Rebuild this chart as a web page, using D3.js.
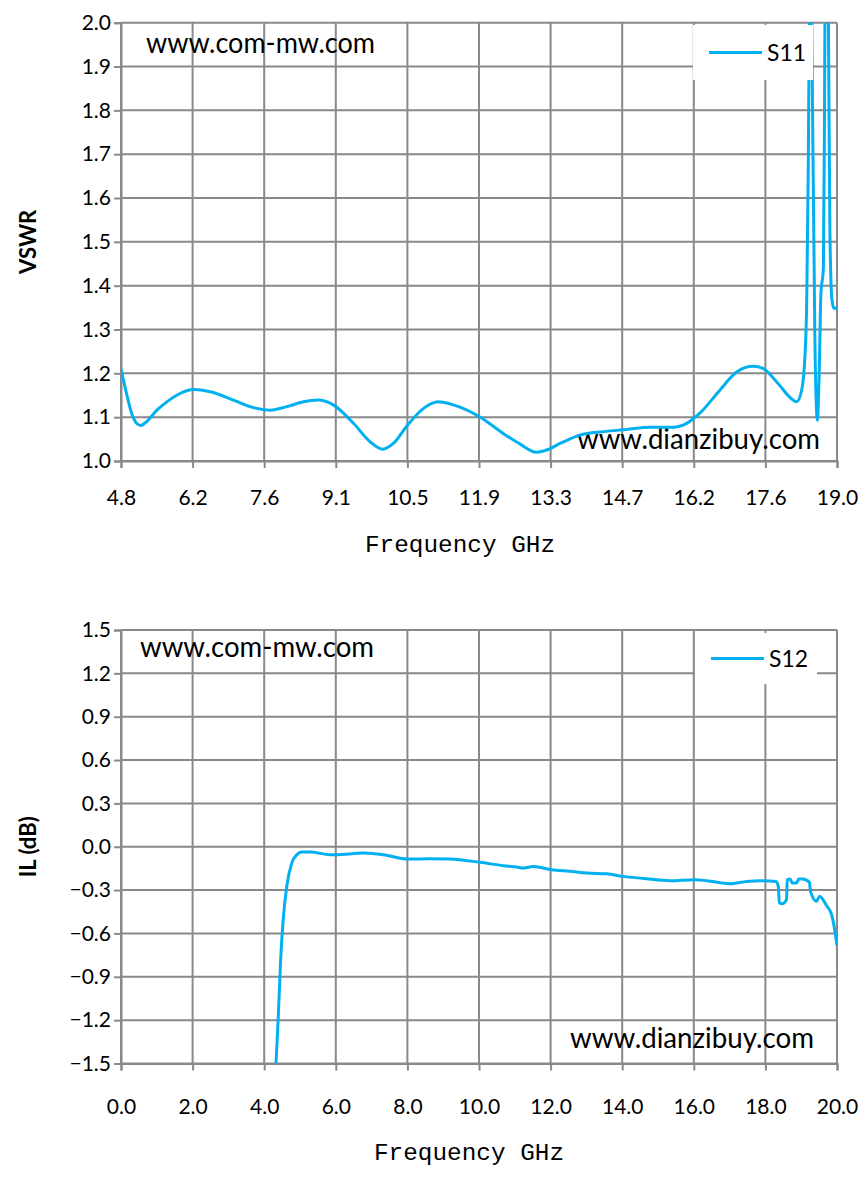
<!DOCTYPE html>
<html><head><meta charset="utf-8">
<script src="https://cdn.jsdelivr.net/npm/d3@7/dist/d3.min.js"></script>
<style>
body{margin:0;background:#fff;}
svg{display:block;}
</style></head>
<body>
<svg id="c" width="868" height="1178"></svg>
<script>
// ---------- DATA ----------
const s11Freq = [4.80,4.91,5.01,5.11,5.19,5.31,5.51,5.71,5.97,6.23,6.57,7.03,7.36,7.76,8.09,8.42,8.71,9.01,9.41,9.74,9.99,10.20,10.47,10.80,11.09,11.39,11.91,12.38,12.71,13.04,13.24,13.51,13.90,14.37,14.83,15.29,15.75,16.02,16.28,16.68,17.01,17.34,17.54,17.80,18.13,18.20,18.30,18.37,18.40,18.43,18.45,18.475,18.50,18.56,18.61,18.65,18.68,18.73,18.75,18.76,18.79,18.83,18.86,18.90,18.94,19.00];
const s11Vswr = [1.209,1.154,1.109,1.086,1.081,1.090,1.116,1.135,1.154,1.163,1.158,1.139,1.124,1.116,1.124,1.135,1.139,1.128,1.086,1.044,1.027,1.040,1.080,1.120,1.135,1.128,1.101,1.063,1.039,1.020,1.025,1.040,1.059,1.067,1.072,1.077,1.077,1.086,1.109,1.162,1.203,1.216,1.211,1.181,1.139,1.135,1.162,1.253,1.367,1.670,2.000,2.300,2.000,1.290,1.093,1.215,1.380,1.440,1.750,2.000,2.400,2.000,1.520,1.367,1.348,1.350];
const s11Ticks = [4.8,6.22,7.64,9.06,10.48,11.9,13.32,14.74,16.16,17.58,19.0];
const vswrTicks = [1.0,1.1,1.2,1.3,1.4,1.5,1.6,1.7,1.8,1.9,2.0];

const s12Freq = [4.33,4.39,4.46,4.53,4.63,4.77,4.91,5.05,5.28,5.84,6.00,6.77,7.33,8.00,8.63,9.19,10.03,10.68,11.05,11.24,11.52,12.03,12.54,13.00,13.57,14.01,14.59,15.34,16.03,16.36,17.01,17.48,17.85,18.30,18.36,18.39,18.48,18.59,18.61,18.69,18.75,18.87,18.93,19.04,19.23,19.26,19.43,19.51,19.71,19.85,19.92,20.00];
const s12IL = [-1.5,-1.195,-0.78,-0.505,-0.274,-0.113,-0.055,-0.037,-0.037,-0.055,-0.055,-0.044,-0.055,-0.085,-0.083,-0.085,-0.108,-0.131,-0.140,-0.147,-0.136,-0.159,-0.170,-0.182,-0.187,-0.205,-0.219,-0.235,-0.228,-0.235,-0.256,-0.240,-0.235,-0.240,-0.274,-0.389,-0.394,-0.366,-0.228,-0.224,-0.251,-0.251,-0.224,-0.224,-0.247,-0.309,-0.378,-0.343,-0.408,-0.470,-0.551,-0.684];
const s12Ticks = [0,2,4,6,8,10,12,14,16,18,20];
const ilTicks = [-1.5,-1.2,-0.9,-0.6,-0.3,0.0,0.3,0.6,0.9,1.2,1.5];

// ---------- DRAW ----------
const svg = d3.select('#c');
const GRID = '#898989', LINE = '#00B0F0';
const tickFont = 'Lato, "Open Sans", sans-serif';

function chart(o){
  const g = svg.append('g');
  const x = d3.scaleLinear().domain(o.xDomain).range([121, 837]);
  const y = d3.scaleLinear().domain(o.yDomain).range([o.bottom, o.top]);
  const clipId = 'clip' + o.id;
  svg.append('clipPath').attr('id', clipId).append('rect')
     .attr('x', 121).attr('y', o.top).attr('width', 716).attr('height', o.bottom - o.top);

  // grid
  g.selectAll('.hg').data(o.yTicks).join('line')
    .attr('x1', 121).attr('x2', 837).attr('y1', d => y(d)).attr('y2', d => y(d))
    .attr('stroke', GRID).attr('stroke-width', 2);
  g.selectAll('.vg').data(o.xTicks).join('line')
    .attr('x1', d => x(d)).attr('x2', d => x(d)).attr('y1', o.top).attr('y2', o.bottom)
    .attr('stroke', GRID).attr('stroke-width', 2);

  // axes
  const ya = g.append('g').attr('transform', 'translate(121,0)')
    .call(d3.axisLeft(y).tickValues(o.yTicks).tickFormat(d3.format('.1f')).tickSize(7).tickPadding(3));
  const xa = g.append('g').attr('transform', `translate(0,${o.bottom})`)
    .call(d3.axisBottom(x).tickValues(o.xTicks).tickFormat(d3.format('.1f')).tickSize(7).tickPadding(o.xPad));
  [ya, xa].forEach(a => {
    a.select('.domain').attr('stroke', GRID).attr('stroke-width', 2);
    a.selectAll('.tick line').attr('stroke', GRID).attr('stroke-width', 2);
    a.selectAll('.tick text').attr('font-family', tickFont).attr('font-size', 21).attr('fill', '#000');
  });

  // watermarks (under the line, grid shows through)
  g.append('text').attr('x', o.wm1[0]).attr('y', o.wm1[1]).text('www.com-mw.com')
    .attr('font-family', tickFont).attr('font-size', 28).attr('textLength', o.wm1[2])
    .attr('lengthAdjust', 'spacingAndGlyphs').attr('fill', '#000');
  g.append('text').attr('x', o.wm2[0]).attr('y', o.wm2[1]).text('www.dianzibuy.com')
    .attr('font-family', tickFont).attr('font-size', 28).attr('textLength', o.wm2[2])
    .attr('lengthAdjust', 'spacingAndGlyphs').attr('fill', '#000');

  // data line
  const pts = o.xs.map((v, i) => [v, o.ys[i]]);
  g.append('path').datum(pts).attr('clip-path', `url(#${clipId})`)
    .attr('fill', 'none').attr('stroke', LINE).attr('stroke-width', 3)
    .attr('stroke-linejoin', 'round')
    .attr('d', d3.line().x(d => x(d[0])).y(d => y(d[1])).curve(d3.curveMonotoneX));

  // legend
  const L = o.legend;
  g.append('rect').attr('x', L.x).attr('y', L.y).attr('width', L.w).attr('height', L.h).attr('fill', '#fff');
  g.append('line').attr('x1', L.x + 16).attr('x2', L.x + 69).attr('y1', L.y + L.h / 2).attr('y2', L.y + L.h / 2)
    .attr('stroke', LINE).attr('stroke-width', 3);
  g.append('text').attr('x', L.x + 74).attr('y', L.y + L.h / 2 + 8.5).text(o.name)
    .attr('font-family', tickFont).attr('font-size', 23).attr('textLength', 39)
    .attr('lengthAdjust', 'spacingAndGlyphs').attr('fill', '#000');

  // axis titles
  g.append('text').attr('transform', `translate(36,${(o.top + o.bottom) / 2}) rotate(-90)`)
    .attr('text-anchor', 'middle').text(o.yTitle)
    .attr('font-family', tickFont).attr('font-weight', 'bold').attr('font-size', 22).attr('fill', '#000');
  g.append('text').attr('x', o.xTitle[0]).attr('y', o.xTitle[1]).attr('text-anchor', 'middle')
    .text('Frequency GHz').attr('font-family', '"Liberation Mono", monospace').attr('font-size', 23)
    .attr('textLength', 190).attr('lengthAdjust', 'spacingAndGlyphs').attr('fill', '#000');
}

chart({id: 1, xDomain: [4.8, 19.0], yDomain: [1.0, 2.0], top: 22.7, bottom: 461, xPad: 22,
  xTicks: s11Ticks, yTicks: vswrTicks, xs: s11Freq, ys: s11Vswr, name: 'S11', yTitle: 'VSWR',
  wm1: [146, 53, 229], wm2: [577, 449, 243], legend: {x: 693, y: 25, w: 120, h: 55},
  xTitle: [460, 552]});

chart({id: 2, xDomain: [0, 20], yDomain: [-1.5, 1.5], top: 630, bottom: 1063.5, xPad: 29,
  xTicks: s12Ticks, yTicks: ilTicks, xs: s12Freq, ys: s12IL, name: 'S12', yTitle: 'IL (dB)',
  wm1: [140, 657, 234], wm2: [570, 1048, 244], legend: {x: 695, y: 633, w: 122, h: 51},
  xTitle: [469, 1160]});
</script>
</body></html>
